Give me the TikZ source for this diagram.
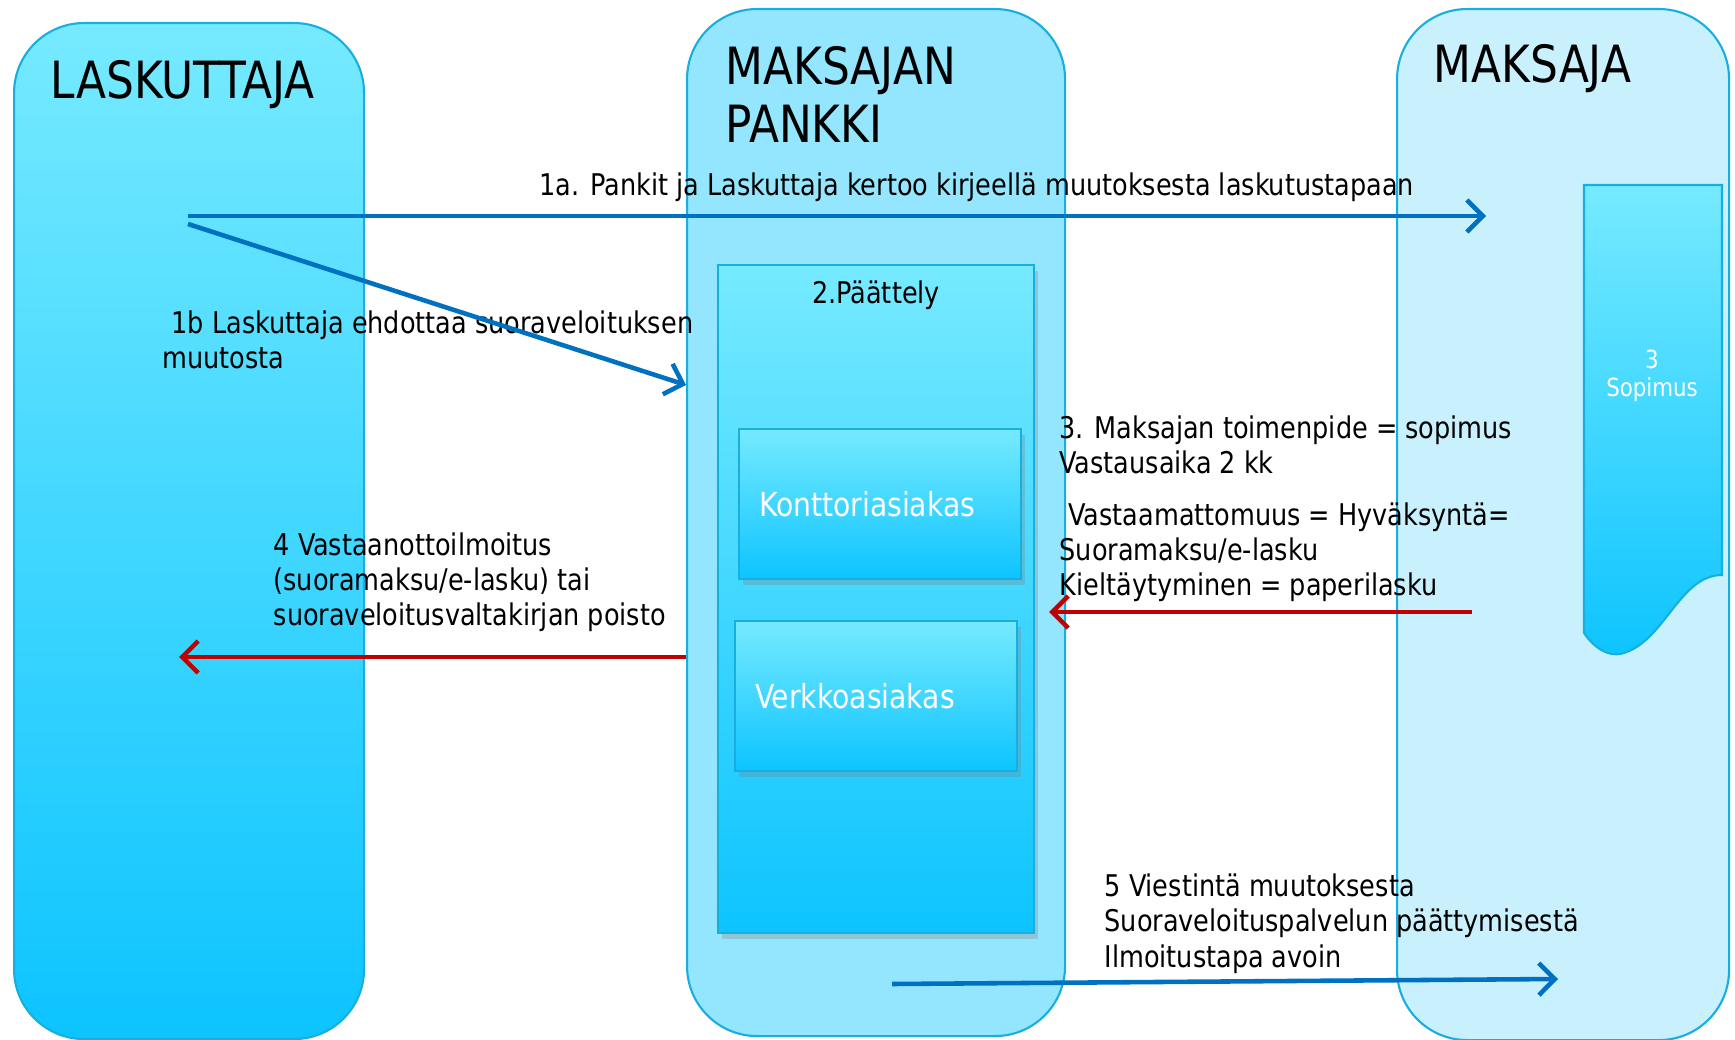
\documentclass[tikz,border=0pt]{standalone}
\usepackage{fontspec}
\setmainfont{DejaVu Sans Condensed}[FakeStretch=0.95]
\usetikzlibrary{positioning, arrows.meta, shadows}

\definecolor{lightcyan}{HTML}{76EAFF}
\definecolor{deepcyan}{HTML}{0DC4FF}
\definecolor{bankcyan}{HTML}{93E6FD}
\definecolor{payercyan}{HTML}{C8F1FD}
\definecolor{edgecyan}{HTML}{18AEDF}
\definecolor{arrowblue}{HTML}{0070C0}
\definecolor{arrowred}{HTML}{C00000}

\begin{document}
\begin{tikzpicture}[every node/.style={align=left},
    lane/.style={rectangle, draw=edgecyan, line width=0.6pt, rounded corners=0.7cm, inner sep=0, anchor=north west},
    lane1/.style={lane, top color=lightcyan, bottom color=deepcyan},
    lane2/.style={lane, fill=bankcyan},
    lane3/.style={lane, fill=payercyan},
    inbox/.style={rectangle, draw=edgecyan, line width=0.6pt, top color=lightcyan, bottom color=deepcyan, anchor=north west,
        drop shadow={opacity=0.3, shadow xshift=0.4mm, shadow yshift=-0.6mm}},
    custbox/.style={inbox, minimum width=2.82cm, minimum height=1.5cm, inner xsep=0.2cm, text width=2.42cm,
        text=white, font=\fontsize{9.4}{11}\selectfont},
    title/.style={font=\fontsize{14.6}{16.7}\selectfont, anchor=base west, inner sep=0},
    txt/.style={font=\fontsize{8.5}{10.1}\selectfont, anchor=base west, inner sep=0},
    arrow/.style={-{Straight Barb[length=1.6mm, width=3.2mm]}, line width=1.3pt},
    bluearrow/.style={arrow, arrowblue},
    redarrow/.style={arrow, arrowred},
]
\useasboundingbox (0,0) rectangle (17.35,-10.40);

% lanes
\node[lane1, minimum width=3.50cm, minimum height=10.16cm] (laskuttaja) at (0.13,-0.22) {};
\node[lane2, minimum width=3.78cm, minimum height=10.27cm] (pankki) at (6.86,-0.08) {};
\node[lane3, minimum width=3.32cm, minimum height=10.31cm] (maksaja) at (13.96,-0.08) {};

\node[title] (tlask) at (0.50,-0.99) {LASKUTTAJA};
\node[title] (tpank) at (7.25,-1.43) {MAKSAJAN\\PANKKI};
\node[title] (tmaks) at (14.33,-0.83) {MAKSAJA};

% bank side
\node[inbox, minimum width=3.16cm, minimum height=6.68cm,
    label={[anchor=north, yshift=-0.04cm, font=\fontsize{8.5}{10.1}\selectfont]north:{2.Päättely}}] (paattely) at (7.17,-2.64) {};
\node[custbox] (konttori) at (7.38,-4.28) {Konttoriasiakas};
\node[custbox] (verkko) at (7.34,-6.20) {Verkkoasiakas};

% agreement document
\draw[draw=edgecyan, line width=0.6pt, top color=lightcyan, bottom color=deepcyan]
  (15.84,-1.85) -- (17.22,-1.85) -- (17.22,-5.75)
  .. controls (16.80,-5.75) and (16.65,-6.40) .. (16.24,-6.53)
  .. controls (16.05,-6.59) and (15.90,-6.42) .. (15.84,-6.33) -- cycle;
\node[font=\fontsize{7.1}{7.9}\selectfont, text=white, align=center] (sopimus) at (16.52,-3.76) {3\\Sopimus};

% messages (base = last line)
\node[txt] (t1a) at (5.39,-1.96) {1a. Pankit ja Laskuttaja kertoo kirjeellä muutoksesta laskutustapaan};
\node[txt] (t1b) at (1.62,-3.69) {\hspace{0.09cm}1b Laskuttaja ehdottaa suoraveloituksen\\muutosta};
\node[txt] (t3) at (10.59,-4.74) {3. Maksajan toimenpide = sopimus\\Vastausaika 2 kk};
\node[txt] (t3b) at (10.59,-5.96) {\hspace{0.09cm}Vastaamattomuus = Hyväksyntä=\\Suoramaksu/e-lasku\\Kieltäytyminen = paperilasku};
\node[txt] (t4) at (2.73,-6.26) {4 Vastaanottoilmoitus\\(suoramaksu/e-lasku) tai\\suoraveloitusvaltakirjan poisto};
\node[txt] (t5) at (11.04,-9.67) {5 Viestintä muutoksesta\\Suoraveloituspalvelun päättymisestä\\Ilmoitustapa avoin};

\coordinate (lstart) at (1.88,-2.16);
\coordinate (lstart2) at (1.88,-2.24);
\coordinate (mend) at (14.86,-2.16);
\coordinate (pin) at (6.86,-3.85);
\coordinate (mout) at (14.72,-6.12);
\coordinate (pin2) at (10.49,-6.12);
\coordinate (pout) at (6.86,-6.57);
\coordinate (lend) at (1.79,-6.57);
\coordinate (pout2) at (8.92,-9.84);
\coordinate (mend2) at (15.58,-9.79);

\draw[bluearrow] (lstart) -- (mend);
\draw[bluearrow] (lstart2) -- (pin);
\draw[redarrow] (mout) -- (pin2);
\draw[redarrow] (pout) -- (lend);
\draw[bluearrow] (pout2) -- (mend2);

\end{tikzpicture}
\end{document}
